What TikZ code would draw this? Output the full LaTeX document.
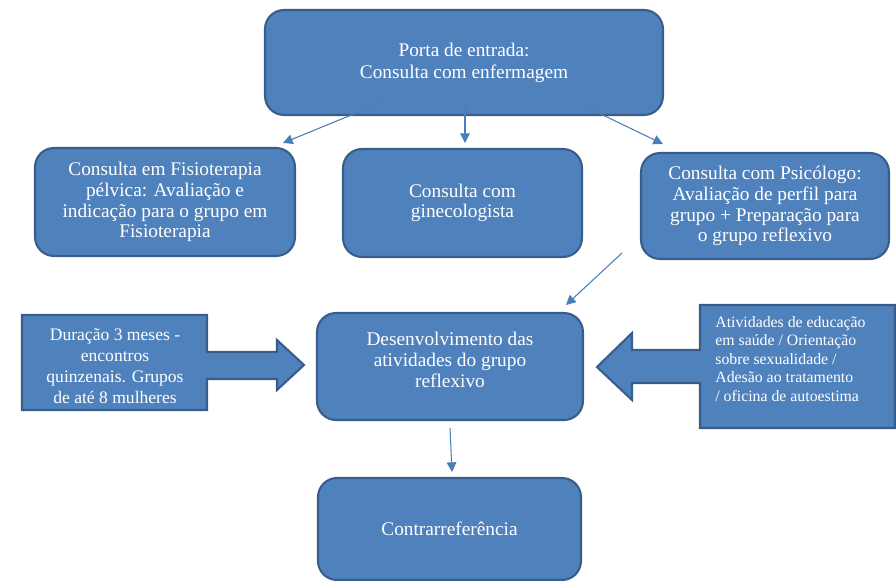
\documentclass[tikz,border=0pt]{standalone}
\usepackage{fontspec}
\setmainfont{Liberation Serif}
\usepackage{tikz}
\usetikzlibrary{arrows.meta,positioning}
\definecolor{fluxfill}{HTML}{4F81BD}
\definecolor{fluxedge}{HTML}{385D8A}
\definecolor{fluxline}{HTML}{4A7EBB}

\begin{document}
\begin{tikzpicture}[x=0.02cm,y=-0.02cm,
  box/.style={draw=fluxedge,line width=1.2pt,fill=fluxfill,rounded corners=0.38cm,
    text=white,align=center,font=\fontsize{11}{11.8}\selectfont},
  callout/.style={draw=fluxedge,line width=1.2pt,fill=fluxfill},
  calltext/.style={text=white,inner sep=0pt},
  link/.style={fluxline,line width=0.6pt,-{Triangle[length=5.5pt,width=5.5pt]}}]
\useasboundingbox (0,0) rectangle (896,581);

% caixas principais
\node[box,minimum width=7.96cm,minimum height=2.1cm] (entrada) at (464,62.5)
  {Porta de entrada:\\[0.6pt]Consulta com enfermagem};
\node[box,minimum width=5.2cm,minimum height=2.16cm] (fisio) at (165,202)
  {Consulta em Fisioterapia\\pélvica: Avaliação e\\indicação para o grupo em\\Fisioterapia};
\node[box,minimum width=4.78cm,minimum height=2.16cm] (gineco) at (462.5,203)
  {Consulta com\\ginecologista};
\node[box,minimum width=4.96cm,minimum height=2.12cm] (psico) at (765,206)
  {Consulta com Psicólogo:\\Avaliação de perfil para\\grupo + Preparação para\\o grupo reflexivo};
\node[box,minimum width=5.32cm,minimum height=2.14cm] (grupo) at (450,366.5) {};
\node[calltext,align=center,font=\fontsize{11}{11.8}\selectfont] (grupotxt) at (450,360)
  {Desenvolvimento das\\atividades do grupo\\reflexivo};
\node[box,minimum width=5.26cm,minimum height=2.04cm] (contra) at (449.5,529)
  {Contrarreferência};

% chamadas com seta
\draw[callout] (22,315) -- (207,315) -- (207,352) -- (277,352) -- (277,340) -- (304,365)
  -- (277,390) -- (277,379) -- (207,379) -- (207,410) -- (22,410) -- cycle;
\node[calltext,align=center,font=\fontsize{10}{12}\selectfont] (duracao) at (115,366)
  {Duração 3 meses - \\encontros\\quinzenais. Grupos\\de até 8 mulheres};
\draw[callout] (700,305) -- (895,305) -- (895,428) -- (700,428) -- (700,383) -- (632,383)
  -- (632,400) -- (597,367) -- (632,333) -- (632,350) -- (700,350) -- cycle;
\node[calltext,align=left,font=\fontsize{9}{10.5}\selectfont,anchor=north west] (ativ) at (715,316)
  {Atividades de educação\\em saúde / Orientação\\sobre sexualidade /\\Adesão ao tratamento\\/ oficina de autoestima};

% ligacoes
\coordinate (a1) at (388,100);
\coordinate (b1) at (283,143);
\coordinate (a2) at (465,107);
\coordinate (b2) at (465,143);
\coordinate (a3) at (582,105);
\coordinate (b3) at (663,144);
\coordinate (a4) at (622,253);
\coordinate (b4) at (566,305);
\coordinate (a5) at (450,428);
\coordinate (b5) at (452,472);
\draw[link] (a1) -- (b1);
\draw[link] (a2) -- (b2);
\draw[link] (a3) -- (b3);
\draw[link] (a4) -- (b4);
\draw[link] (a5) -- (b5);
\end{tikzpicture}
\end{document}
